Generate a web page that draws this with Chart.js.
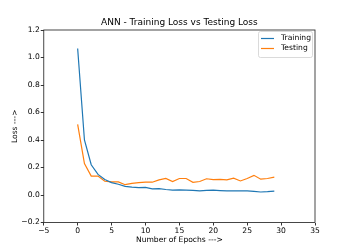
<!DOCTYPE html>
<html>
<head>
<meta charset="utf-8">
<script src="https://cdn.jsdelivr.net/npm/chart.js@4.4.1/dist/chart.umd.min.js"></script>
<style>
  html, body { margin: 0; padding: 0; background: #fff; }
  #wrap { width: 350px; height: 250px; }
</style>
</head>
<body>
<div id="wrap"><canvas id="loss-chart" width="350" height="250"></canvas></div>
<script>
const epochs = [0,1,2,3,4,5,6,7,8,9,10,11,12,13,14,15,16,17,18,19,20,21,22,23,24,25,26,27,28,29];
const trainingLoss = [1.065,0.40,0.22,0.15,0.112,0.09,0.078,0.063,0.057,0.053,0.055,0.045,0.047,0.04,0.035,0.037,0.035,0.033,0.03,0.033,0.035,0.032,0.03,0.03,0.03,0.03,0.027,0.022,0.024,0.028];
const testingLoss = [0.514,0.228,0.138,0.138,0.10,0.095,0.095,0.075,0.085,0.09,0.093,0.093,0.11,0.12,0.098,0.12,0.12,0.092,0.098,0.118,0.112,0.113,0.11,0.123,0.102,0.12,0.143,0.115,0.12,0.13];
const xTicks = [-5,0,5,10,15,20,25,30,35];
const yTicks = [-0.2,0,0.2,0.4,0.6,0.8,1.0,1.2];
const chartTitle = 'ANN - Training Loss vs Testing Loss';

const font = 'DejaVu Sans';
const minus = s => String(s).replace('-', '\u2212');

// axes box on all four sides + title centred over the axes, like matplotlib
const frame = {
  id: 'frame',
  afterDatasetsDraw(chart) {
    const { ctx, chartArea: a } = chart;
    ctx.save();
    ctx.strokeStyle = '#333';
    ctx.lineWidth = 0.9;
    ctx.strokeRect(a.left, a.top, a.right - a.left, a.bottom - a.top);
    ctx.fillStyle = '#000';
    ctx.font = '9px "' + font + '"';
    ctx.textAlign = 'center';
    ctx.textBaseline = 'middle';
    ctx.fillText(chartTitle, (a.left + a.right) / 2, a.top - 7);
    ctx.restore();
  }
};

// legend box in the upper right
const boxLegend = {
  id: 'boxLegend',
  afterDraw(chart) {
    const ctx = chart.ctx;
    const a = chart.chartArea;
    const x = a.right - 57, y = a.top + 1, w = 54, h = 26;
    ctx.save();
    ctx.fillStyle = 'rgba(255,255,255,0.85)';
    ctx.strokeStyle = '#d0d0d0';
    ctx.lineWidth = 0.8;
    ctx.beginPath();
    ctx.roundRect(x + 0.5, y + 0.5, w, h, 2);
    ctx.fill();
    ctx.stroke();
    ctx.font = '7.6px "' + font + '"';
    ctx.textBaseline = 'middle';
    chart.data.datasets.forEach((ds, i) => {
      const ly = y + 7.5 + i * 10;
      ctx.strokeStyle = ds.borderColor;
      ctx.lineWidth = 1.2;
      ctx.beginPath();
      ctx.moveTo(x + 3, ly);
      ctx.lineTo(x + 16, ly);
      ctx.stroke();
      ctx.fillStyle = '#000';
      ctx.fillText(ds.label, x + 23, ly);
    });
    ctx.restore();
  }
};

new Chart(document.querySelector('#loss-chart').getContext('2d'), {
  type: 'line',
  data: {
    datasets: [
      {
        label: 'Training',
        data: epochs.map((e, i) => ({ x: e, y: trainingLoss[i] })),
        borderColor: '#1f77b4',
        borderWidth: 1.2,
        pointRadius: 0,
        tension: 0
      },
      {
        label: 'Testing',
        data: epochs.map((e, i) => ({ x: e, y: testingLoss[i] })),
        borderColor: '#ff7f0e',
        borderWidth: 1.2,
        pointRadius: 0,
        tension: 0
      }
    ]
  },
  options: {
    responsive: false,
    animation: false,
    devicePixelRatio: 1,
    layout: { padding: { left: 0, right: 35, top: 30, bottom: 0 } },
    plugins: {
      legend: { display: false },
      tooltip: { enabled: false },
      title: { display: false }
    },
    scales: {
      x: {
        type: 'linear',
        min: -5,
        max: 35,
        afterBuildTicks: s => { s.ticks = xTicks.map(v => ({ value: v })); },
        afterFit: s => { s.height = 27.5; },
        ticks: {
          color: '#000',
          font: { family: font, size: 7.6 },
          padding: 1,
          maxRotation: 0,
          callback: v => minus(v)
        },
        grid: { drawOnChartArea: false, drawTicks: true, tickLength: 3, color: '#333' },
        border: { display: false },
        title: {
          display: true,
          text: 'Number of Epochs --->',
          color: '#000',
          font: { family: font, size: 7.6 },
          padding: { top: 0, bottom: 5 }
        }
      },
      y: {
        min: -0.2,
        max: 1.2,
        afterBuildTicks: s => { s.ticks = yTicks.map(v => ({ value: v })); },
        afterFit: s => { s.width = 43.75; },
        ticks: {
          color: '#000',
          font: { family: font, size: 7.6 },
          padding: 1,
          callback: v => minus(v.toFixed(1))
        },
        grid: { drawOnChartArea: false, drawTicks: true, tickLength: 3, color: '#333' },
        border: { display: false },
        title: {
          display: true,
          text: 'Loss --->',
          color: '#000',
          font: { family: font, size: 7.6 },
          padding: { top: 10, bottom: 0 }
        }
      }
    }
  },
  plugins: [frame, boxLegend]
});
</script>
</body>
</html>
